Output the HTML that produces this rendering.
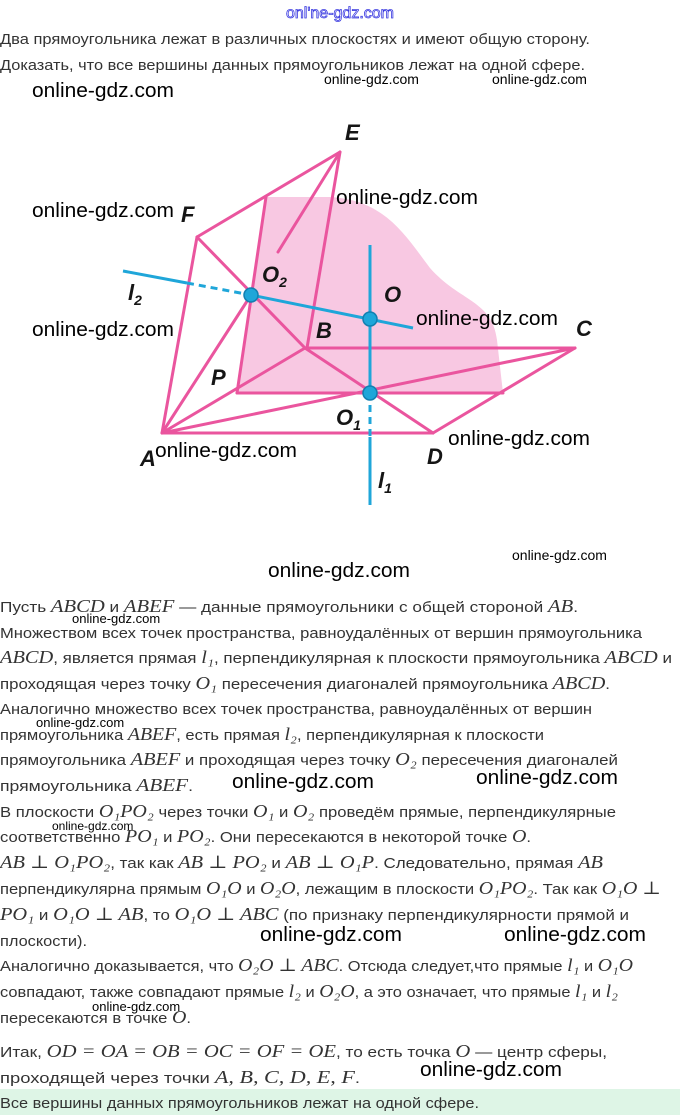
<!DOCTYPE html>
<html><head><meta charset="utf-8"><style>
html,body{margin:0;padding:0;background:#fff;}
svg{display:block}
.t{font-family:"Liberation Sans",sans-serif;font-size:15px;fill:#333}
.m{font-family:"Liberation Serif","DejaVu Serif",serif;font-style:italic;font-size:18px}
.w{font-family:"Liberation Sans",sans-serif;fill:#000}
.lb{font-family:"Liberation Sans",sans-serif;font-style:italic;font-weight:bold;font-size:22px;fill:#151515}
</style></head><body>
<svg width="680" height="1115" viewBox="0 0 680 1115" xmlns="http://www.w3.org/2000/svg">
<rect x="0" y="1089" width="680" height="26" fill="#def5e6"/>
<text x="340" y="18" text-anchor="middle" font-family="Liberation Sans,sans-serif" font-size="16" fill="#fff" stroke="#3a3ae0" stroke-width="0.8">onl'ne-gdz.com</text>
<text class="t" x="0" y="44" textLength="590" lengthAdjust="spacingAndGlyphs">Два прямоугольника лежат в различных плоскостях и имеют общую сторону.</text>
<text class="t" x="0" y="70" textLength="585" lengthAdjust="spacingAndGlyphs">Доказать, что все вершины данных прямоугольников лежат на одной сфере.</text>

<!-- figure -->
<path d="M266,197 L330,197 C385,200 405,235 430,268 C460,302 492,300 497,340 L503,393 L237,393 Z" fill="#f8c8e2"/>
<g stroke="#ea559e" stroke-width="3" fill="none" stroke-linejoin="round" stroke-linecap="round">
<polyline points="162,433 197,237 340,152 307,348"/>
<line x1="162" y1="433" x2="305" y2="348"/>
<line x1="162" y1="433" x2="433" y2="433"/>
<line x1="433" y1="433" x2="575" y2="348"/>
<line x1="305" y1="348" x2="575" y2="348"/>
<line x1="162" y1="433" x2="575" y2="348"/>
<line x1="305" y1="348" x2="433" y2="433"/>
<line x1="197" y1="237" x2="305" y2="348"/>
<line x1="162" y1="433" x2="251" y2="295"/>
<line x1="278" y1="252" x2="340" y2="152"/>
<line x1="237" y1="393" x2="266" y2="197"/>
<line x1="237" y1="393" x2="503" y2="393"/>
</g>
<g stroke="#1fa6d9" stroke-width="3" fill="none">
<line x1="123" y1="271" x2="187" y2="283"/>
<line x1="187" y1="283" x2="251" y2="295" stroke-dasharray="7,5"/>
<line x1="251" y1="295" x2="413" y2="328"/>
<line x1="370" y1="245" x2="370" y2="393"/>
<line x1="370" y1="393" x2="370" y2="437" stroke-dasharray="7,5"/>
<line x1="370" y1="437" x2="370" y2="505"/>
</g>
<g fill="#1fa6d9" stroke="#127fb0" stroke-width="1.5">
<circle cx="251" cy="295" r="7"/><circle cx="370" cy="319" r="7"/><circle cx="370" cy="393" r="7"/>
</g>
<text class="lb" x="345" y="140">E</text>
<text class="lb" x="181" y="222">F</text>
<text class="lb" x="262" y="282">O<tspan font-size="14" dy="5">2</tspan></text>
<text class="lb" x="128" y="300">l<tspan font-size="14" dy="5">2</tspan></text>
<text class="lb" x="384" y="302">O</text>
<text class="lb" x="316" y="338">B</text>
<text class="lb" x="576" y="336">C</text>
<text class="lb" x="211" y="385">P</text>
<text class="lb" x="336" y="425">O<tspan font-size="14" dy="5">1</tspan></text>
<text class="lb" x="140" y="466">A</text>
<text class="lb" x="427" y="464">D</text>
<text class="lb" x="378" y="488">l<tspan font-size="14" dy="5">1</tspan></text>

<!-- body text -->
<text class="t" x="0" y="612" textLength="578" lengthAdjust="spacingAndGlyphs">Пусть <tspan class="m">ABCD</tspan> и <tspan class="m">ABEF</tspan> — данные прямоугольники с общей стороной <tspan class="m">AB</tspan>.</text>
<text class="t" x="0" y="638" textLength="642" lengthAdjust="spacingAndGlyphs">Множеством всех точек пространства, равноудалённых от вершин прямоугольника</text>
<text class="t" x="0" y="663" textLength="672" lengthAdjust="spacingAndGlyphs"><tspan class="m">ABCD</tspan>, является прямая <tspan class="m">l₁</tspan>, перпендикулярная к плоскости прямоугольника <tspan class="m">ABCD</tspan> и</text>
<text class="t" x="0" y="689" textLength="610" lengthAdjust="spacingAndGlyphs">проходящая через точку <tspan class="m">O₁</tspan> пересечения диагоналей прямоугольника <tspan class="m">ABCD</tspan>.</text>
<text class="t" x="0" y="714" textLength="592" lengthAdjust="spacingAndGlyphs">Аналогично множество всех точек пространства, равноудалённых от вершин</text>
<text class="t" x="0" y="740" textLength="544" lengthAdjust="spacingAndGlyphs">прямоугольника <tspan class="m">ABEF</tspan>, есть прямая <tspan class="m">l₂</tspan>, перпендикулярная к плоскости</text>
<text class="t" x="0" y="765" textLength="618" lengthAdjust="spacingAndGlyphs">прямоугольника <tspan class="m">ABEF</tspan> и проходящая через точку <tspan class="m">O₂</tspan> пересечения диагоналей</text>
<text class="t" x="0" y="791" textLength="193" lengthAdjust="spacingAndGlyphs">прямоугольника <tspan class="m">ABEF</tspan>.</text>
<text class="t" x="0" y="817" textLength="616" lengthAdjust="spacingAndGlyphs">В плоскости <tspan class="m">O₁PO₂</tspan> через точки <tspan class="m">O₁</tspan> и <tspan class="m">O₂</tspan> проведём прямые, перпендикулярные</text>
<text class="t" x="0" y="842" textLength="531" lengthAdjust="spacingAndGlyphs">соответственно <tspan class="m">PO₁</tspan> и <tspan class="m">PO₂</tspan>. Они пересекаются в некоторой точке <tspan class="m">O</tspan>.</text>
<text class="t" x="0" y="868" textLength="603" lengthAdjust="spacingAndGlyphs"><tspan class="m">AB ⊥ O₁PO₂</tspan>, так как <tspan class="m">AB ⊥ PO₂</tspan> и <tspan class="m">AB ⊥ O₁P</tspan>. Следовательно, прямая <tspan class="m">AB</tspan></text>
<text class="t" x="0" y="894" textLength="661" lengthAdjust="spacingAndGlyphs">перпендикулярна прямым <tspan class="m">O₁O</tspan> и <tspan class="m">O₂O</tspan>, лежащим в плоскости <tspan class="m">O₁PO₂</tspan>. Так как <tspan class="m">O₁O ⊥</tspan></text>
<text class="t" x="0" y="920" textLength="629" lengthAdjust="spacingAndGlyphs"><tspan class="m">PO₁</tspan> и <tspan class="m">O₁O ⊥ AB</tspan>, то <tspan class="m">O₁O ⊥ ABC</tspan> (по признаку перпендикулярности прямой и</text>
<text class="t" x="0" y="946" textLength="87" lengthAdjust="spacingAndGlyphs">плоскости).</text>
<text class="t" x="0" y="971" textLength="633" lengthAdjust="spacingAndGlyphs">Аналогично доказывается, что <tspan class="m">O₂O ⊥ ABC</tspan>. Отсюда следует,что прямые <tspan class="m">l₁</tspan> и <tspan class="m">O₁O</tspan></text>
<text class="t" x="0" y="997" textLength="618" lengthAdjust="spacingAndGlyphs">совпадают, также совпадают прямые <tspan class="m">l₂</tspan> и <tspan class="m">O₂O</tspan>, а это означает, что прямые <tspan class="m">l₁</tspan> и <tspan class="m">l₂</tspan></text>
<text class="t" x="0" y="1023" textLength="191" lengthAdjust="spacingAndGlyphs">пересекаются в точке <tspan class="m">O</tspan>.</text>
<text class="t" x="0" y="1057" textLength="607" lengthAdjust="spacingAndGlyphs">Итак, <tspan class="m">OD = OA = OB = OC = OF = OE</tspan>, то есть точка <tspan class="m">O</tspan> — центр сферы,</text>
<text class="t" x="0" y="1083" textLength="360" lengthAdjust="spacingAndGlyphs">проходящей через точки <tspan class="m">A, B, C, D, E, F</tspan>.</text>
<text class="t" x="0" y="1108" textLength="479" lengthAdjust="spacingAndGlyphs">Все вершины данных прямоугольников лежат на одной сфере.</text>

<!-- watermarks -->
<g class="w">
<text x="32" y="97" font-size="20" textLength="142" lengthAdjust="spacingAndGlyphs">online-gdz.com</text>
<text x="324" y="84" font-size="14">online-gdz.com</text>
<text x="492" y="84" font-size="14">online-gdz.com</text>
<text x="32" y="217" font-size="20" textLength="142" lengthAdjust="spacingAndGlyphs">online-gdz.com</text>
<text x="336" y="204" font-size="20" textLength="142" lengthAdjust="spacingAndGlyphs">online-gdz.com</text>
<text x="32" y="336" font-size="20" textLength="142" lengthAdjust="spacingAndGlyphs">online-gdz.com</text>
<text x="416" y="325" font-size="20" textLength="142" lengthAdjust="spacingAndGlyphs">online-gdz.com</text>
<text x="448" y="445" font-size="20" textLength="142" lengthAdjust="spacingAndGlyphs">online-gdz.com</text>
<text x="155" y="457" font-size="20" textLength="142" lengthAdjust="spacingAndGlyphs">online-gdz.com</text>
<text x="512" y="560" font-size="14">online-gdz.com</text>
<text x="268" y="577" font-size="20" textLength="142" lengthAdjust="spacingAndGlyphs">online-gdz.com</text>
<text x="72" y="623" font-size="13">online-gdz.com</text>
<text x="36" y="727" font-size="13">online-gdz.com</text>
<text x="232" y="788" font-size="20" textLength="142" lengthAdjust="spacingAndGlyphs">online-gdz.com</text>
<text x="476" y="784" font-size="20" textLength="142" lengthAdjust="spacingAndGlyphs">online-gdz.com</text>
<text x="52" y="830" font-size="12">online-gdz.com</text>
<text x="260" y="941" font-size="20" textLength="142" lengthAdjust="spacingAndGlyphs">online-gdz.com</text>
<text x="504" y="941" font-size="20" textLength="142" lengthAdjust="spacingAndGlyphs">online-gdz.com</text>
<text x="92" y="1011" font-size="13">online-gdz.com</text>
<text x="420" y="1076" font-size="20" textLength="142" lengthAdjust="spacingAndGlyphs">online-gdz.com</text>
</g>
</svg>
</body></html>
